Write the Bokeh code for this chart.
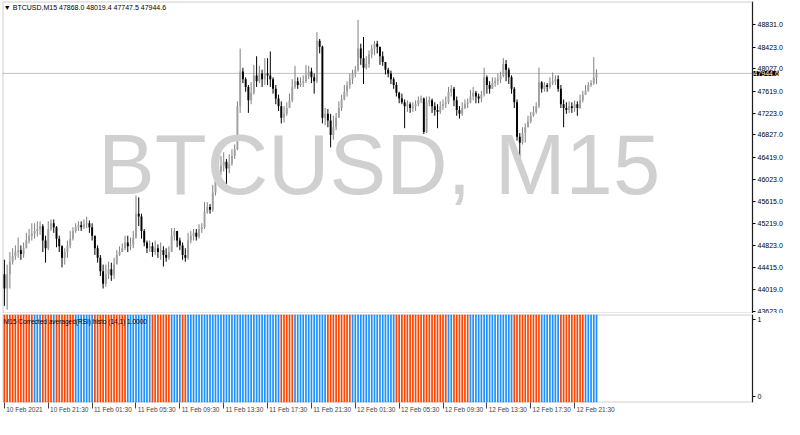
from bokeh.plotting import figure
from bokeh.layouts import column
from bokeh.models import (Range1d, FixedTicker, PrintfTickFormatter, Label, BoxAnnotation,
                          ColumnDataSource)
from bokeh.embed import file_html
from bokeh.resources import INLINE

symbol = "BTCUSD"
timeframe = "M15"
first_open = 44302
header_ohlc = [47868.0, 48019.4, 47747.5, 47944.6]
last_price = 47944.6

closes = [
    44041, 44302, 44528, 44633, 44703, 44737, 44668, 44772, 44912, 44999,
    45033, 45086, 45121, 45173, 44912, 44772, 45121, 45225, 45155, 44946,
    44807, 44598, 44703, 44824, 44946, 45086, 45155, 45190, 45155, 45208,
    45225, 45155, 44999, 44772, 44598, 44354, 44128, 44302, 44389, 44284,
    44476, 44650, 44703, 44772, 44877, 44807, 44842, 44964, 45399, 45347,
    45086, 44877, 44772, 44807, 44703, 44772, 44703, 44737, 44650, 44598,
    44703, 44999, 45086, 44912, 44824, 44650, 44598, 44912, 44999, 45051,
    44981, 45121, 45155, 45434, 45521, 45469, 45783, 45992, 46166, 46270,
    46340, 46218, 46305, 46445, 46566,
    47350, 47977, 47838, 47699, 47455, 47594, 47908, 47803, 47943, 47838,
    47943, 47908, 47838, 47664, 47490, 47350, 47141, 47211, 47316, 47455,
    47699, 47803, 47734, 47768, 47803, 47908, 47977, 47873, 47803, 48535,
    48430, 47141, 47211, 47089, 46828, 46967, 47141, 47316, 47472, 47612,
    47734, 47838, 47943, 48012, 48396, 48221, 48047, 48117, 48291, 48396,
    48483, 48430, 48256, 48152, 48012, 47943, 47838, 47734, 47594, 47490,
    47420, 47350, 47385, 47316, 47350, 47385, 47455, 47490, 46880, 47420,
    47455, 47350, 47281, 47246, 47350, 47385, 47420, 47612, 47664, 47455,
    47281, 47211, 47316, 47385, 47420, 47525, 47594, 47525, 47490, 47559,
    47873, 47734, 47664, 47768, 47803, 47838, 47908, 48117, 48012, 47873,
    47664, 47420, 46793, 46688, 46863, 46967, 47072, 47176, 47246, 47350,
    47786, 47664, 47734, 47699, 47768, 47803, 47838, 47664, 47385, 47316,
    47281, 47350, 47316, 47385, 47316, 47455, 47559, 47629, 47734, 47768,
    47868, 47944.6]

highs = [
    44563, 44476, 44703, 44772, 44824, 44964, 44824, 44877, 45051, 45121,
    45225, 45225, 45260, 45260, 45208, 44999, 45260, 45295, 45295, 45173,
    44999, 44824, 44772, 44912, 45086, 45155, 45225, 45260, 45260, 45295,
    45347, 45277, 45225, 44999, 44824, 44650, 44476, 44476, 44528, 44511,
    44598, 44737, 44807, 44859, 44999, 44999, 44964, 45086, 45730, 45695,
    45399, 45121, 44912, 44912, 44877, 44912, 44842, 44877, 44807, 44772,
    44807, 45138, 45138, 45086, 44964, 44877, 44772, 45051, 45086, 45121,
    45121, 45208, 45225, 45608, 45608, 45574, 45922, 46131, 46340, 46445,
    46514, 46392, 46479, 46566, 46654,
    47437, 48396, 48047, 47873, 47734, 47786, 48099, 48256, 48082, 48012,
    48221, 48221, 48343, 47873, 47734, 47559, 47437, 47350, 47420, 47577,
    47838, 48082, 47873, 47873, 47908, 48099, 48082, 48047, 47943, 48692,
    48570, 48448, 47316, 47298, 47211, 47176, 47228, 47437, 47559, 47734,
    47803, 47943, 48012, 48082, 48918, 48483, 48605, 48256, 48361, 48465,
    48535, 48535, 48396, 48343, 48134, 48047, 47995, 47873, 47786, 47612,
    47577, 47472, 47455, 47420, 47420, 47455, 47525, 47542, 47507, 47525,
    47525, 47490, 47420, 47385, 47437, 47472, 47525, 47699, 47734, 47699,
    47525, 47350, 47420, 47472, 47490, 47646, 47699, 47629, 47577, 47629,
    48047, 47908, 47803, 47873, 47873, 47943, 47977, 48221, 48186, 48047,
    47908, 47699, 47472, 46863, 46967, 47037, 47176, 47246, 47350, 47420,
    48047, 47803, 47786, 47768, 47873, 47960, 47908, 47908, 47734, 47472,
    47420, 47437, 47420, 47455, 47437, 47559, 47629, 47734, 47786, 47821,
    48239, 48019.4]

lows = [
    43727, 43657, 44041, 44476, 44563, 44598, 44563, 44598, 44772, 44859,
    44912, 44946, 44981, 45016, 44703, 44511, 44737, 45086, 45051, 44790,
    44703, 44424, 44476, 44598, 44772, 44912, 45051, 45086, 45086, 45121,
    45138, 45051, 44912, 44650, 44511, 44267, 44041, 44075, 44215, 44180,
    44215, 44528, 44633, 44703, 44737, 44703, 44737, 44772, 44946, 45173,
    44946, 44807, 44685, 44703, 44615, 44650, 44598, 44563, 44441, 44528,
    44563, 44703, 44912, 44790, 44737, 44563, 44528, 44563, 44859, 44912,
    44912, 44946, 45051, 45121, 45399, 45399, 45434, 45730, 45922, 46096,
    46166, 45904, 46131, 46270, 46392,
    46549, 47228, 47768, 47612, 47228, 47385, 47559, 47699, 47768, 47699,
    47734, 47734, 47699, 47577, 47385, 47263, 47037, 47054, 47176, 47316,
    47420, 47664, 47664, 47699, 47699, 47768, 47838, 47768, 47577, 47768,
    48308, 47037, 47002, 46967, 46601, 46741, 46915, 47141, 47263, 47455,
    47525, 47664, 47751, 47873, 47977, 48099, 47751, 48012, 48047, 48221,
    48274, 48308, 48099, 48082, 47925, 47873, 47751, 47664, 47525, 47403,
    47385, 46950, 47246, 47228, 47246, 47263, 47350, 47403, 46845, 46863,
    47350, 47228, 47176, 46950, 47211, 47281, 47316, 47385, 47525, 47350,
    47176, 47124, 47176, 47298, 47316, 47403, 47455, 47403, 47403, 47420,
    47525, 47577, 47577, 47664, 47699, 47734, 47768, 47873, 47803, 47751,
    47577, 47316, 46723, 46253, 46654, 46688, 46967, 47037, 47159, 47211,
    47316, 47594, 47612, 47612, 47664, 47734, 47734, 47612, 47316, 46967,
    47211, 47228, 47228, 47246, 47176, 47298, 47420, 47559, 47612, 47699,
    47734, 47747.5]

# indicator histogram state runs: (1 = up / blue, 0 = down / orange, number of bars)
hist_runs = [(0, 11), (1, 3), (0, 4), (1, 1), (0, 7), (1, 7), (0, 12), (1, 9),
             (0, 7), (1, 4), (0, 2), (1, 34), (0, 5), (1, 12), (0, 9), (1, 16),
             (0, 19), (1, 2), (0, 6), (1, 16), (0, 10), (1, 7), (0, 9), (1, 5)]

price_ticks = [48831.0, 48423.0, 48027.0, 47619.0, 47223.0, 46827.0, 46419.0,
               46023.0, 45615.0, 45219.0, 44823.0, 44415.0, 44019.0, 43623.0]
time_tick_index = [0, 16, 32, 48, 64, 80, 96, 112, 128, 144, 160, 176, 192, 208]
time_tick_labels = ["10 Feb 2021", "10 Feb 21:30", "11 Feb 01:30", "11 Feb 05:30",
                    "11 Feb 09:30", "11 Feb 13:30", "11 Feb 17:30", "11 Feb 21:30",
                    "12 Feb 01:30", "12 Feb 05:30", "12 Feb 09:30", "12 Feb 13:30",
                    "12 Feb 17:30", "12 Feb 21:30"]
indicator_name = "M15 Corrected averaged(RSI) histo (14,1) 1.0000"
indicator_ticks = [0, 1]

UP_COLOR = "#1E90FF"
DN_COLOR = "#FF4500"
BULL_BODY = "#A0A0A0"
BULL_WICK = "#808080"
BORDER = "#606060"
FONT = "Liberation Sans"

n = len(closes)
idx = list(range(n))
opens = [first_open] + closes[:-1]
hist_state = []
for s, k in hist_runs:
    hist_state += [s] * k
hist_state = hist_state[:n]

# layout: canvas 784 px wide; chart area 2..752 px, price scale in the last 32 px
W = 784
LEFT = 2
SCALE_W = 32
X_START = -0.7
AXIS_X = 272.9                      # bar coordinate of the price-scale line
px_per_bar = (W - LEFT - SCALE_W) / (AXIS_X - X_START)
x_range = Range1d(X_START, X_START + (W - LEFT) / px_per_bar)
price_range = Range1d(43588, 49249)

p1 = figure(width=W, height=313, x_range=x_range, y_range=price_range,
            output_backend="svg", toolbar_location=None,
            y_axis_location="right", x_axis_location=None,
            min_border_left=LEFT, min_border_right=0, min_border_top=1, min_border_bottom=0)
p1.grid.visible = False
p1.outline_line_color = None
p1.background_fill_color = "white"

# watermark
p1.add_layout(Label(x=136.7, y=46300, text=symbol + ", " + timeframe,
                    text_font=FONT, text_font_size="85px", text_color="#D0D0D0",
                    text_align="center", text_baseline="middle"))

# current price line (up to the price scale)
p1.segment(x0=[X_START], y0=[last_price], x1=[AXIS_X], y1=[last_price],
           line_color="#C0C0C0", line_width=1)

bull = [i for i in idx if closes[i] >= opens[i]]
bear = [i for i in idx if closes[i] < opens[i]]
bull_src = ColumnDataSource(dict(x=[idx[i] for i in bull], h=[highs[i] for i in bull],
                                 l=[lows[i] for i in bull], o=[opens[i] for i in bull],
                                 c=[closes[i] for i in bull]))
bear_src = ColumnDataSource(dict(x=[idx[i] for i in bear], h=[highs[i] for i in bear],
                                 l=[lows[i] for i in bear], o=[opens[i] for i in bear],
                                 c=[closes[i] for i in bear]))
p1.segment(x0="x", y0="l", x1="x", y1="h", source=bull_src, line_color=BULL_WICK, line_width=1)
p1.segment(x0="x", y0="l", x1="x", y1="h", source=bear_src, line_color="black", line_width=1)
p1.vbar(x="x", top="c", bottom="o", width=0.7, source=bull_src,
        fill_color=BULL_BODY, line_color=None)
p1.vbar(x="x", top="o", bottom="c", width=0.7, source=bear_src,
        fill_color="black", line_color=None)

# chart border (left, top, bottom, and right at the price scale)
p1.add_layout(BoxAnnotation(right=AXIS_X, fill_alpha=0, line_color=BORDER, line_width=2))


def style_price_axis(ax):
    ax.fixed_location = AXIS_X
    ax.major_label_text_font = FONT
    ax.major_label_text_font_size = "7px"
    ax.major_label_text_color = "black"
    ax.axis_line_color = "black"
    ax.major_tick_line_color = "black"
    ax.major_tick_out = 3
    ax.major_tick_in = 0
    ax.minor_tick_out = 0
    ax.minor_tick_in = 0
    ax.major_label_standoff = 2


ya = p1.yaxis[0]
ya.ticker = FixedTicker(ticks=price_ticks)
ya.formatter = PrintfTickFormatter(format="%.1f")
style_price_axis(ya)

header = "\u25BC " + symbol + "," + timeframe + "  " + " ".join("%.1f" % v for v in header_ohlc)
p1.add_layout(Label(x=-0.2, y=49140, text=header, text_font=FONT, text_font_size="7px",
                    text_color="black", text_baseline="middle"))

# current-price tag on the price scale
p1.add_layout(Label(x=AXIS_X, y=last_price, text="%.1f" % last_price,
                    text_font=FONT, text_font_size="7px", text_color="white",
                    text_baseline="middle", x_offset=1,
                    background_fill_color="black", background_fill_alpha=1.0))

ind_range = Range1d(-0.074, 1.062)
p2 = figure(width=W, height=106, x_range=x_range, y_range=ind_range,
            output_backend="svg", toolbar_location=None,
            y_axis_location="right",
            min_border_left=LEFT, min_border_right=0, min_border_top=1, min_border_bottom=0)
p2.grid.visible = False
p2.outline_line_color = None

up_x = [i for i in idx if hist_state[i] == 1]
dn_x = [i for i in idx if hist_state[i] == 0]
p2.vbar(x=up_x, top=ind_range.end, bottom=ind_range.start, width=0.62,
        fill_color=UP_COLOR, line_color=None)
p2.vbar(x=dn_x, top=ind_range.end, bottom=ind_range.start, width=0.62,
        fill_color=DN_COLOR, line_color=None)
p2.add_layout(BoxAnnotation(right=AXIS_X, fill_alpha=0, line_color=BORDER, line_width=2))

p2.add_layout(Label(x=-0.2, y=0.97, text=indicator_name, text_font=FONT,
                    text_font_size="6.5px", text_color="black", text_baseline="middle"))

ya2 = p2.yaxis[0]
ya2.ticker = FixedTicker(ticks=indicator_ticks)
ya2.major_label_overrides = {0: "0", 1: "1"}
style_price_axis(ya2)

xa = p2.xaxis[0]
xa.ticker = FixedTicker(ticks=time_tick_index)
xa.major_label_overrides = {t: "\u00a0" + s for t, s in zip(time_tick_index, time_tick_labels)}
xa.major_label_orientation = -0.00001
xa.major_label_text_font = FONT
xa.major_label_text_font_size = "6.5px"
xa.major_label_standoff = 1
xa.axis_line_color = None
xa.major_tick_line_color = "#404040"
xa.major_tick_out = 6
xa.major_tick_in = 0
xa.minor_tick_out = 0
xa.minor_tick_in = 0

layout = column(p1, p2, spacing=0)
open("out.html", "w").write(file_html(layout, INLINE))
